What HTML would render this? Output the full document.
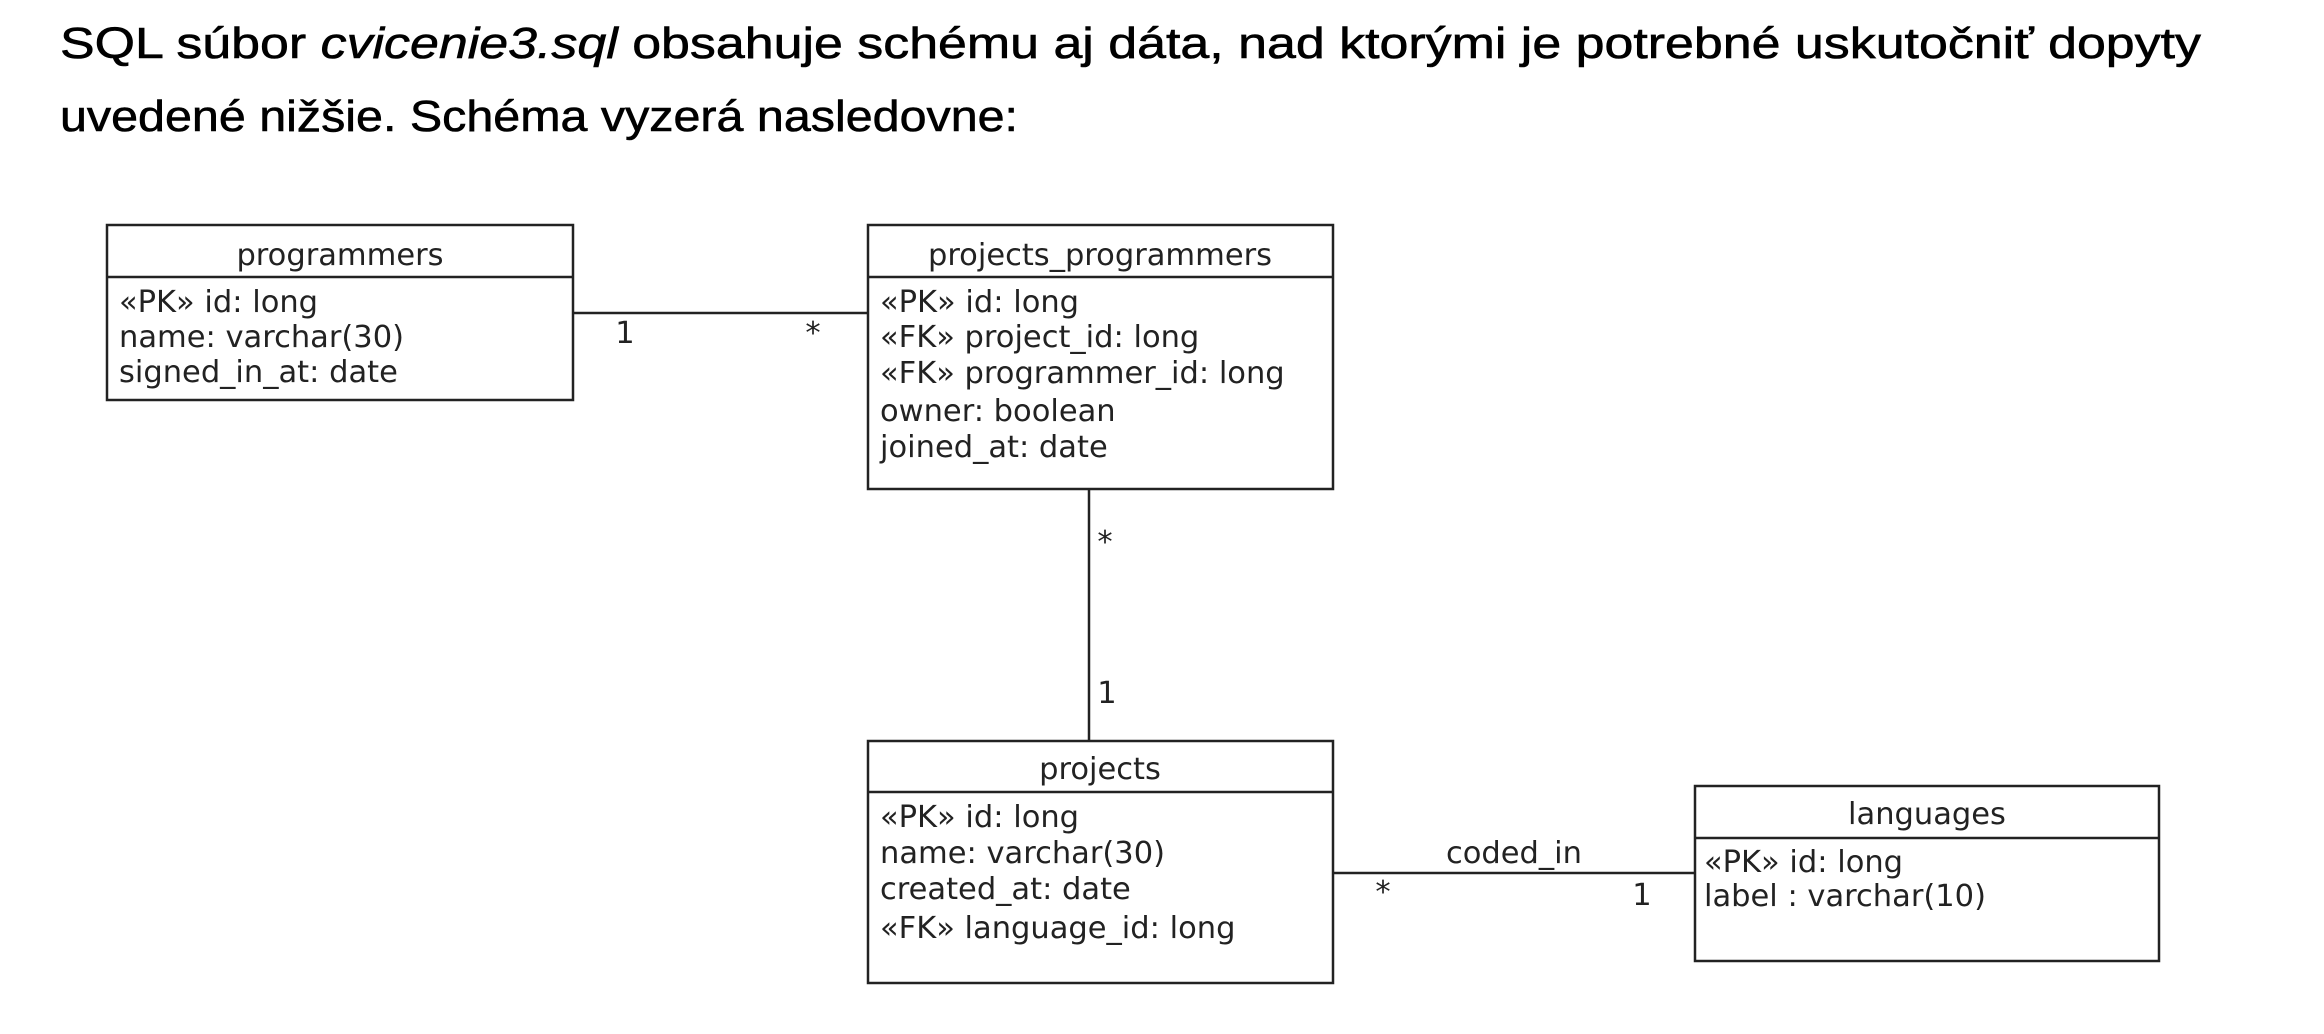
<!DOCTYPE html>
<html><head><meta charset="utf-8">
<style>
html,body{margin:0;padding:0;background:#fff;}
body{width:2324px;height:1034px;position:relative;overflow:hidden;}
.h{position:absolute;left:60px;font-family:"Liberation Sans",sans-serif;font-size:44px;color:#000;white-space:nowrap;transform-origin:0 0;line-height:1;-webkit-text-stroke:0.6px #000;}
svg{position:absolute;left:0;top:0;}
svg text{font-family:"DejaVu Sans","Liberation Sans",sans-serif;font-size:30.5px;fill:#222;}
</style></head><body>
<div class="h" id="l1" style="top:22px">SQL súbor <i>cvicenie3.sql</i> obsahuje schému aj dáta, nad ktorými je potrebné uskutočniť dopyty</div>
<div class="h" id="l2" style="top:95px">uvedené nižšie. Schéma vyzerá nasledovne:</div>
<svg width="2324" height="1034" viewBox="0 0 2324 1034">
<g fill="none" stroke="#222" stroke-width="2.5">
<rect x="107" y="225" width="466" height="175"/><line x1="107" y1="277" x2="573" y2="277"/>
<rect x="868" y="225" width="465" height="264"/><line x1="868" y1="277" x2="1333" y2="277"/>
<rect x="868" y="741" width="465" height="242"/><line x1="868" y1="792" x2="1333" y2="792"/>
<rect x="1695" y="786" width="464" height="175"/><line x1="1695" y1="838" x2="2159" y2="838"/>
<line x1="573" y1="313" x2="868" y2="313"/>
<line x1="1089" y1="489" x2="1089" y2="741"/>
<line x1="1333" y1="873" x2="1695" y2="873"/>
</g>
<text x="340" y="265" text-anchor="middle">programmers</text>
<text x="119" y="312">«PK» id: long</text>
<text x="119" y="347">name: varchar(30)</text>
<text x="119" y="382">signed_in_at: date</text>
<text x="1100" y="265" text-anchor="middle">projects_programmers</text>
<text x="880" y="312">«PK» id: long</text>
<text x="880" y="347">«FK» project_id: long</text>
<text x="880" y="383">«FK» programmer_id: long</text>
<text x="880" y="421">owner: boolean</text>
<text x="880" y="457">joined_at: date</text>
<text x="1100" y="779" text-anchor="middle">projects</text>
<text x="880" y="827">«PK» id: long</text>
<text x="880" y="863">name: varchar(30)</text>
<text x="880" y="899">created_at: date</text>
<text x="880" y="938">«FK» language_id: long</text>
<text x="1927" y="824" text-anchor="middle">languages</text>
<text x="1704" y="872">«PK» id: long</text>
<text x="1704" y="906">label : varchar(10)</text>
<text x="625" y="343" text-anchor="middle">1</text>
<text x="813" y="343" text-anchor="middle">*</text>
<text x="1105" y="552" text-anchor="middle">*</text>
<text x="1107" y="703" text-anchor="middle">1</text>
<text x="1514" y="863" text-anchor="middle">coded_in</text>
<text x="1383" y="902" text-anchor="middle">*</text>
<text x="1642" y="905" text-anchor="middle">1</text>
</svg>
<script>
function fit(id,w){var e=document.getElementById(id);var r=e.getBoundingClientRect().width;e.style.transform='scaleX('+(w/r)+')';}
fit('l1',2141);fit('l2',958);
</script>
</body></html>
